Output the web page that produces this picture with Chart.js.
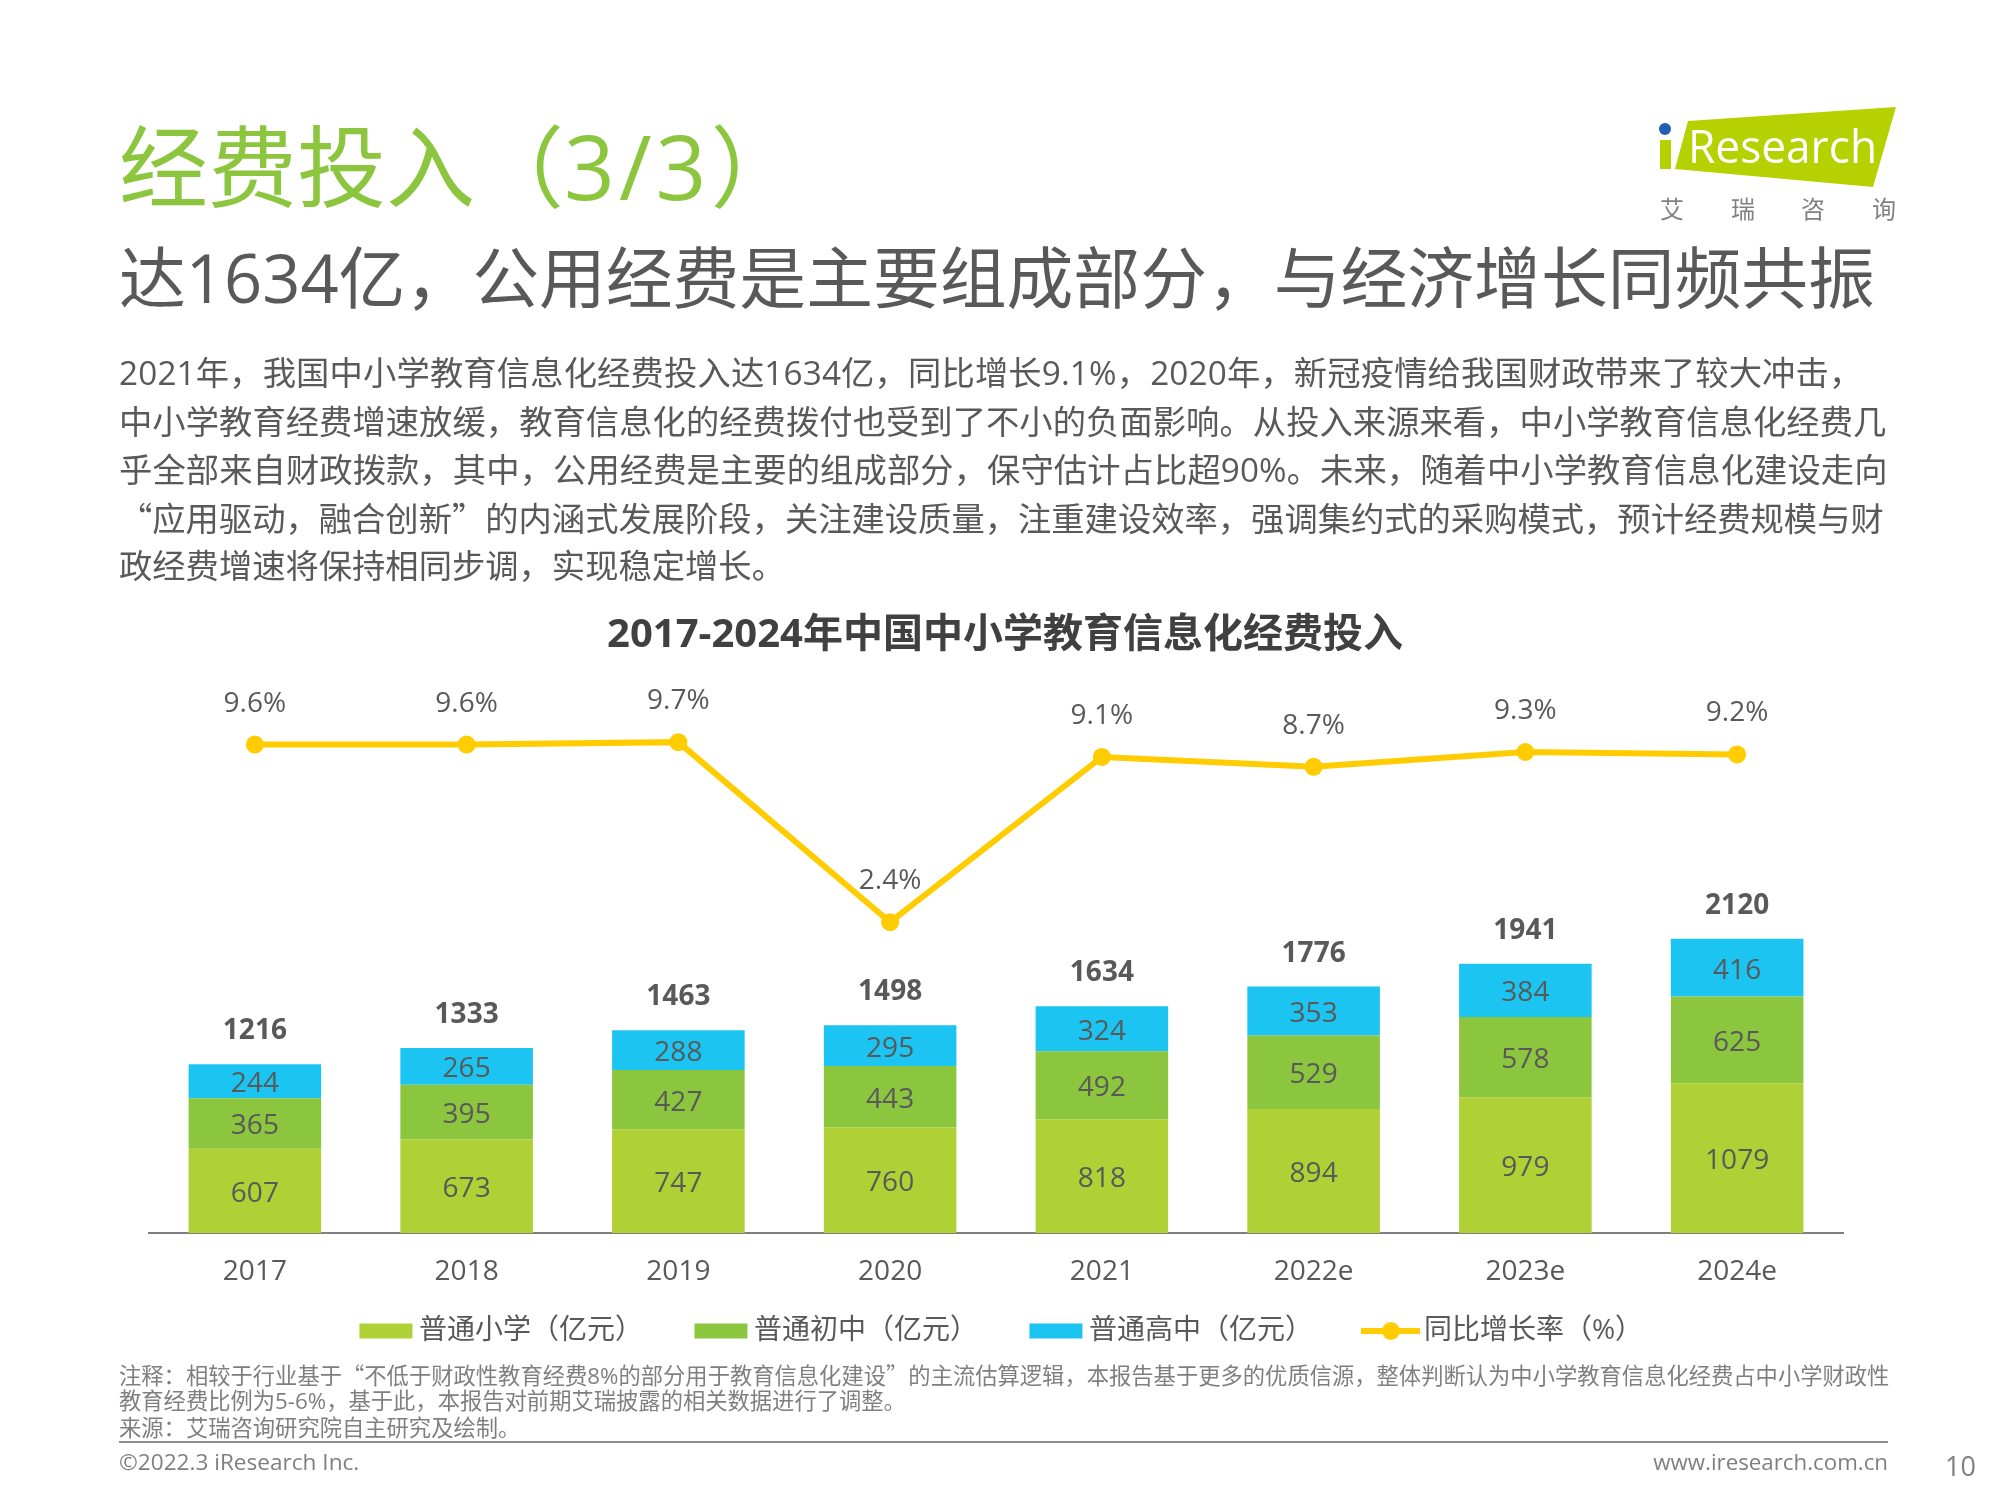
<!DOCTYPE html>
<html lang="zh-CN">
<head>
<meta charset="utf-8">
<title>经费投入（3/3）</title>
<script src="https://cdn.jsdelivr.net/npm/chart.js@4"></script>
<style>
html,body{margin:0;padding:0;background:#fff;width:2000px;height:1500px;overflow:hidden}
body{position:relative;font-family:'Open Sans','Noto Sans CJK SC',sans-serif;color:#595959}
canvas{position:absolute;left:0;top:0}
.t{position:absolute;white-space:nowrap;margin:0;font-weight:400}
.q{font-family:'Noto Sans CJK SC',sans-serif}
#rule{position:absolute;left:119px;top:1441px;width:1769px;height:2px;background:#8c8c8c}
#logo{position:absolute;left:1640px;top:95px}
</style>
</head>
<body>
<canvas id="c" width="2000" height="1500"></canvas>
<div class="t" style="left:119px;top:106px;font-size:89px;line-height:120px;color:#8cc63f">经费投入（<span style="letter-spacing:4px">3/3</span>）</div>
<div class="t" style="left:119px;top:238px;font-size:66.8px;line-height:80px;color:#595959">达1634亿，公用经费是主要组成部分，与经济增长同频共振</div>
<div class="t" style="left:119px;top:348px;font-size:33.3px;line-height:48px;letter-spacing:0.15px">2021年，我国中小学教育信息化经费投入达1634亿，同比增长9.1%，2020年，新冠疫情给我国财政带来了较大冲击，</div>
<div class="t" style="left:119px;top:397px;font-size:33.3px;line-height:48px;letter-spacing:0.05px">中小学教育经费增速放缓，教育信息化的经费拨付也受到了不小的负面影响。从投入来源来看，中小学教育信息化经费几</div>
<div class="t" style="left:119px;top:445px;font-size:33.3px;line-height:48px;letter-spacing:0.09px">乎全部来自财政拨款，其中，公用经费是主要的组成部分，保守估计占比超90%。未来，随着中小学教育信息化建设走向</div>
<div class="t" style="left:119px;top:493px;font-size:33.3px;line-height:48px"><span class="q">“</span>应用驱动，融合创新<span class="q">”</span>的内涵式发展阶段，关注建设质量，注重建设效率，强调集约式的采购模式，预计经费规模与财</div>
<div class="t" style="left:119px;top:541px;font-size:33.3px;line-height:48px">政经费增速将保持相同步调，实现稳定增长。</div>
<div class="t" style="left:119px;top:1361px;font-size:22.3px;line-height:27px;color:#7f7f7f">注释：相较于行业基于<span class="q">“</span>不低于财政性教育经费8%的部分用于教育信息化建设<span class="q">”</span>的主流估算逻辑，本报告基于更多的优质信源，整体判断认为中小学教育信息化经费占中小学财政性</div>
<div class="t" style="left:119px;top:1387px;font-size:22.3px;line-height:27px;color:#7f7f7f">教育经费比例为5-6%，基于此，本报告对前期艾瑞披露的相关数据进行了调整。</div>
<div class="t" style="left:119px;top:1414px;font-size:22.3px;line-height:27px;color:#7f7f7f">来源：艾瑞咨询研究院自主研究及绘制。</div>
<div id="rule"></div>
<div class="t" style="left:119px;top:1448px;font-size:22.6px;line-height:28px;color:#7f7f7f">©2022.3 iResearch Inc.</div>
<div class="t" style="right:112px;top:1448px;font-size:22.3px;line-height:28px;color:#7f7f7f">www.iresearch.com.cn</div>
<div class="t" style="right:24px;top:1449px;font-size:27px;line-height:34px;color:#7f7f7f">10</div>
<svg id="logo" width="270" height="135" viewBox="1640 95 270 135">
  <polygon points="1688,121 1896,107 1873,187 1675,169" fill="#b5d100"/>
  <rect x="1660" y="140" width="11" height="29" fill="#b5d100"/>
  <circle cx="1665" cy="129" r="6" fill="#1f5fb4"/>
  <text x="1688" y="163" font-family="Open Sans" font-size="46" fill="#fff" textLength="189" lengthAdjust="spacingAndGlyphs">Research</text>
  <g font-family="Noto Sans CJK SC" font-size="24" fill="#808080" text-anchor="middle">
    <text x="1672" y="218">艾</text><text x="1743" y="218">瑞</text><text x="1813" y="218">咨</text><text x="1884" y="218">询</text>
  </g>
</svg>
<script>
const categories = ['2017','2018','2019','2020','2021','2022e','2023e','2024e'];
const primary = [607,673,747,760,818,894,979,1079];
const junior = [365,395,427,443,492,529,578,625];
const senior = [244,265,288,295,324,353,384,416];
const totals = [1216,1333,1463,1498,1634,1776,1941,2120];
const growth = [9.6,9.6,9.7,2.4,9.1,8.7,9.3,9.2];
const seriesNames = ['普通小学（亿元）','普通初中（亿元）','普通高中（亿元）','同比增长率（%）'];
const colors = ['#afd136','#8cc63f','#1cc4f2','#ffcc00'];
const fontFamily = "'Open Sans','Noto Sans CJK SC',sans-serif";
const textColor = '#595959';
const legendPadding = 59;

function swatch(i){
  const cv = document.createElement('canvas');
  cv.width = 59; cv.height = 22;
  const g = cv.getContext('2d');
  g.fillStyle = colors[i];
  if(i < 3){ g.fillRect(3,3.5,53,15); }
  else{
    g.fillRect(0,8,59,6);
    g.beginPath(); g.arc(29.5,11,9,0,Math.PI*2); g.fill();
  }
  return cv;
}

const labelPlugin = {
  id:'valueLabels',
  afterLayout(chart){
    chart.legend.top = 1329 - legendPadding - 12;
    chart.legend.left += 9;
    chart.legend.right += 9;
    chart.titleBlock.left += 9;
    chart.titleBlock.right += 9;
    chart.titleBlock.top += 2;
    chart.titleBlock.bottom += 2;
  },
  afterDatasetsDraw(chart){
    const ctx = chart.ctx;
    ctx.save();
    ctx.textAlign='center'; ctx.textBaseline='middle';
    ctx.fillStyle=textColor;
    ctx.font="400 28px "+fontFamily;
    [0,1,2].forEach(d=>{
      const ds=chart.data.datasets[d];
      chart.getDatasetMeta(d).data.forEach((el,i)=>{
        ctx.fillText(String(ds.data[i]),el.x,(el.y+el.base)/2+3);
      });
    });
    chart.getDatasetMeta(3).data.forEach((el,i)=>{
      ctx.fillText(growth[i].toFixed(1)+'%',el.x,el.y-41);
    });
    ctx.font="700 28px "+fontFamily;
    chart.getDatasetMeta(2).data.forEach((el,i)=>{
      ctx.fillText(String(totals[i]),el.x,el.y-33);
    });
    ctx.restore();
  }
};

new Chart(document.getElementById('c'),{
  type:'bar',
  data:{
    labels:categories,
    datasets:[
      {label:seriesNames[0],data:primary,backgroundColor:colors[0],yAxisID:'y',order:2},
      {label:seriesNames[1],data:junior,backgroundColor:colors[1],yAxisID:'y',order:2},
      {label:seriesNames[2],data:senior,backgroundColor:colors[2],yAxisID:'y',order:2},
      {type:'line',label:seriesNames[3],data:growth,yAxisID:'y2',order:1,borderColor:colors[3],backgroundColor:colors[3],
       borderWidth:6,tension:0,pointRadius:9,pointHoverRadius:9,pointBackgroundColor:colors[3],pointBorderColor:colors[3],pointBorderWidth:0,fill:false}
    ]
  },
  options:{
    responsive:false,
    animation:false,
    devicePixelRatio:1,
    barPercentage:0.626,
    categoryPercentage:1,
    layout:{padding:{left:149,right:157,top:610,bottom:110}},
    scales:{
      x:{stacked:true,grid:{display:false,drawTicks:false},border:{display:true,color:'#7f7f7f',width:2},
         afterFit(s){s.height=60;},
         ticks:{color:textColor,font:{size:28,family:fontFamily},padding:22,maxRotation:0,autoSkip:false}},
      y:{stacked:true,display:false,min:0,max:4000},
      y2:{display:false,min:-10.2,max:12.3}
    },
    plugins:{
      tooltip:{enabled:false},
      title:{display:true,text:'2017-2024年中国中小学教育信息化经费投入',color:'#404040',
             font:{size:40,weight:'700',family:fontFamily,lineHeight:1.2},padding:{top:0,bottom:20}},
      legend:{
        position:'bottom',
        labels:{
          color:textColor,font:{size:28,family:fontFamily},padding:legendPadding,boxHeight:15,
          usePointStyle:true,pointStyleWidth:38,
          generateLabels(chart){
            return chart.data.datasets.map((d,i)=>({text:d.label,fillStyle:colors[i],strokeStyle:colors[i],lineWidth:0,
              pointStyle:swatch(i),fontColor:textColor,datasetIndex:i,hidden:false}));
          }
        }
      }
    }
  },
  plugins:[labelPlugin]
});
</script>
</body>
</html>
